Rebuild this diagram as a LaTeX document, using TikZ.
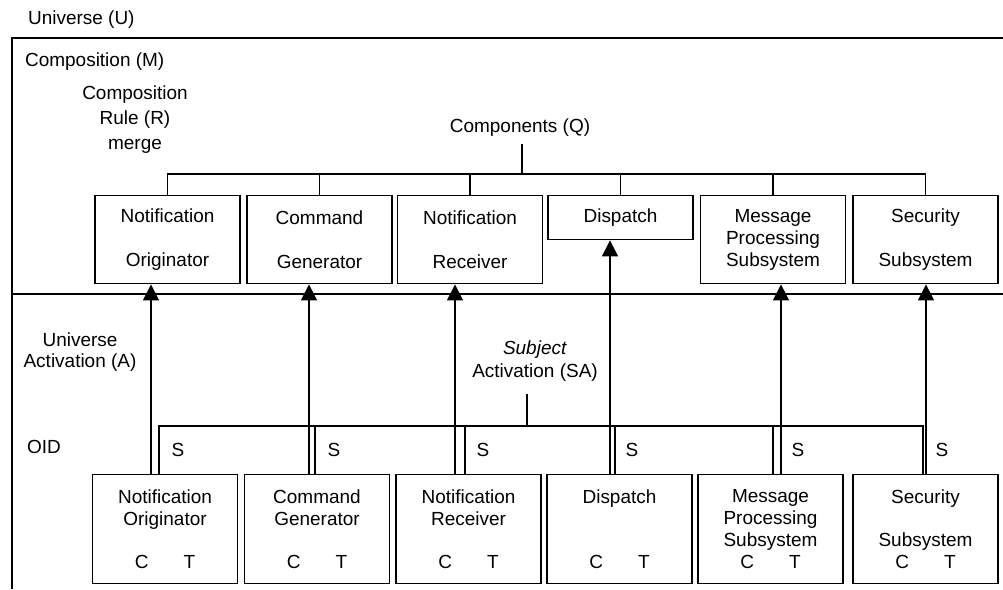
\documentclass[tikz,border=0pt]{standalone}
\usepackage{fontspec}
\setmainfont{Liberation Sans}
\usetikzlibrary{arrows.meta,calc}
\tikzstyle{compbox}=[draw,line width=0.8pt,minimum width=2.9cm,inner sep=0pt,align=center,anchor=north]
\tikzstyle{botbox}=[compbox,minimum height=2.18cm]
\tikzstyle{wire}=[draw,line width=0.8pt]
\tikzstyle{activ}=[draw,line width=0.8pt,-{Triangle[length=0.32cm,width=0.32cm]}]
\tikzstyle{lbl}=[inner sep=1pt,align=center]
\newcommand{\ctpair}{C\hspace{20pt}T}

\begin{document}
\begin{tikzpicture}[x=0.02cm,y=-0.02cm,font=\fontsize{10.8}{12.5}\selectfont]
    \useasboundingbox (0,0) rectangle (1003,589);
    % Universe frame and the line between M and A
    \node[lbl,anchor=west] (univ) at (26,20) {Universe (U)};
    \draw[wire] (1003,38) -- (12,38) -- (12,589);
    \draw[wire] (12,294) -- (1003,294);
    \node[lbl,anchor=west] (compm) at (23,62) {Composition (M)};
    \node[lbl,font=\fontsize{10.8}{14.2}\selectfont] (rule) at (135,120) {Composition\\Rule (R)\\merge};
    \node[lbl,inner sep=4pt] (comp) at (520,128) {Components (Q)};
    % First we draw the components
    \foreach \pos/\h/\name/\txt in {167.5/1.76/t1/{Notification\\[12.5pt]Originator},
                                    319.5/1.76/t2/{Command\\[12.5pt]Generator},
                                    470/1.76/t3/{Notification\\[12.5pt]Receiver},
                                    620.5/0.88/t4/{Dispatch},
                                    773/1.76/t5/{Message\\Processing\\Subsystem},
                                    925.5/1.76/t6/{Security\\[12.5pt]Subsystem}}
        \node[compbox,minimum height=\h cm] (\name) at (\pos,195) {\txt};
    % Components tree
    \coordinate (qj) at (522,174);
    \draw[wire] (comp.south -| qj) -- (qj);
    \draw[wire] (t1.north) |- (qj) -| (t6.north);
    \foreach \i in {2,...,5}
        \draw[wire] (t\i.north) -- (t\i.north |- qj);

    % Activation part
    \node[lbl,font=\fontsize{10.8}{12}\selectfont] (uact) at (80,352) {Universe\\Activation (A)};
    \node[lbl,anchor=west] (oid) at (25,447) {OID};
    \node[lbl,inner sep=7pt,font=\fontsize{10.8}{12.9}\selectfont] (sact) at (535,361) {\textit{Subject}\\Activation (SA)};
    \foreach \pos/\name/\txt in {165/b1/{Notification\\Originator\\[12.5pt]\ctpair},
                                 317/b2/{Command\\Generator\\[12.5pt]\ctpair},
                                 468.5/b3/{Notification\\Receiver\\[12.5pt]\ctpair},
                                 619.5/b4/{Dispatch\\[25pt]\ctpair},
                                 770.5/b5/{Message\\Processing\\Subsystem\\\ctpair},
                                 925.5/b6/{Security\\[12.5pt]Subsystem\\\ctpair}}
        \node[botbox] (\name) at (\pos,474) {\txt};
    % Connect subjects with components and put the S labels
    \foreach \i/\da/\ds/\dl in {1/-14/-6/13, 2/-8/-2/17, 3/-13.5/-3.5/14.5,
                                4/-9.5/-4.5/12.5, 5/10.5/2.5/27.5, 6/0.5/-2.5/16.5} {
        \path (b\i.north) ++(\da,0) coordinate (a\i) (b\i.north) ++(\ds,0) coordinate (s\i);
        \draw[activ] (a\i) -- (a\i |- t\i.south);
        \node[lbl] (sl\i) at ($(b\i.north)+(\dl,-24)$) {S};
    }
    \coordinate (sj) at (527,426);
    \draw[wire] (sact.south -| sj) -- (sj);
    \draw[wire] (s1) |- (sj) -| (s6);
    \foreach \i in {2,...,5}
        \draw[wire] (s\i) -- (s\i |- sj);
\end{tikzpicture}
\end{document}
